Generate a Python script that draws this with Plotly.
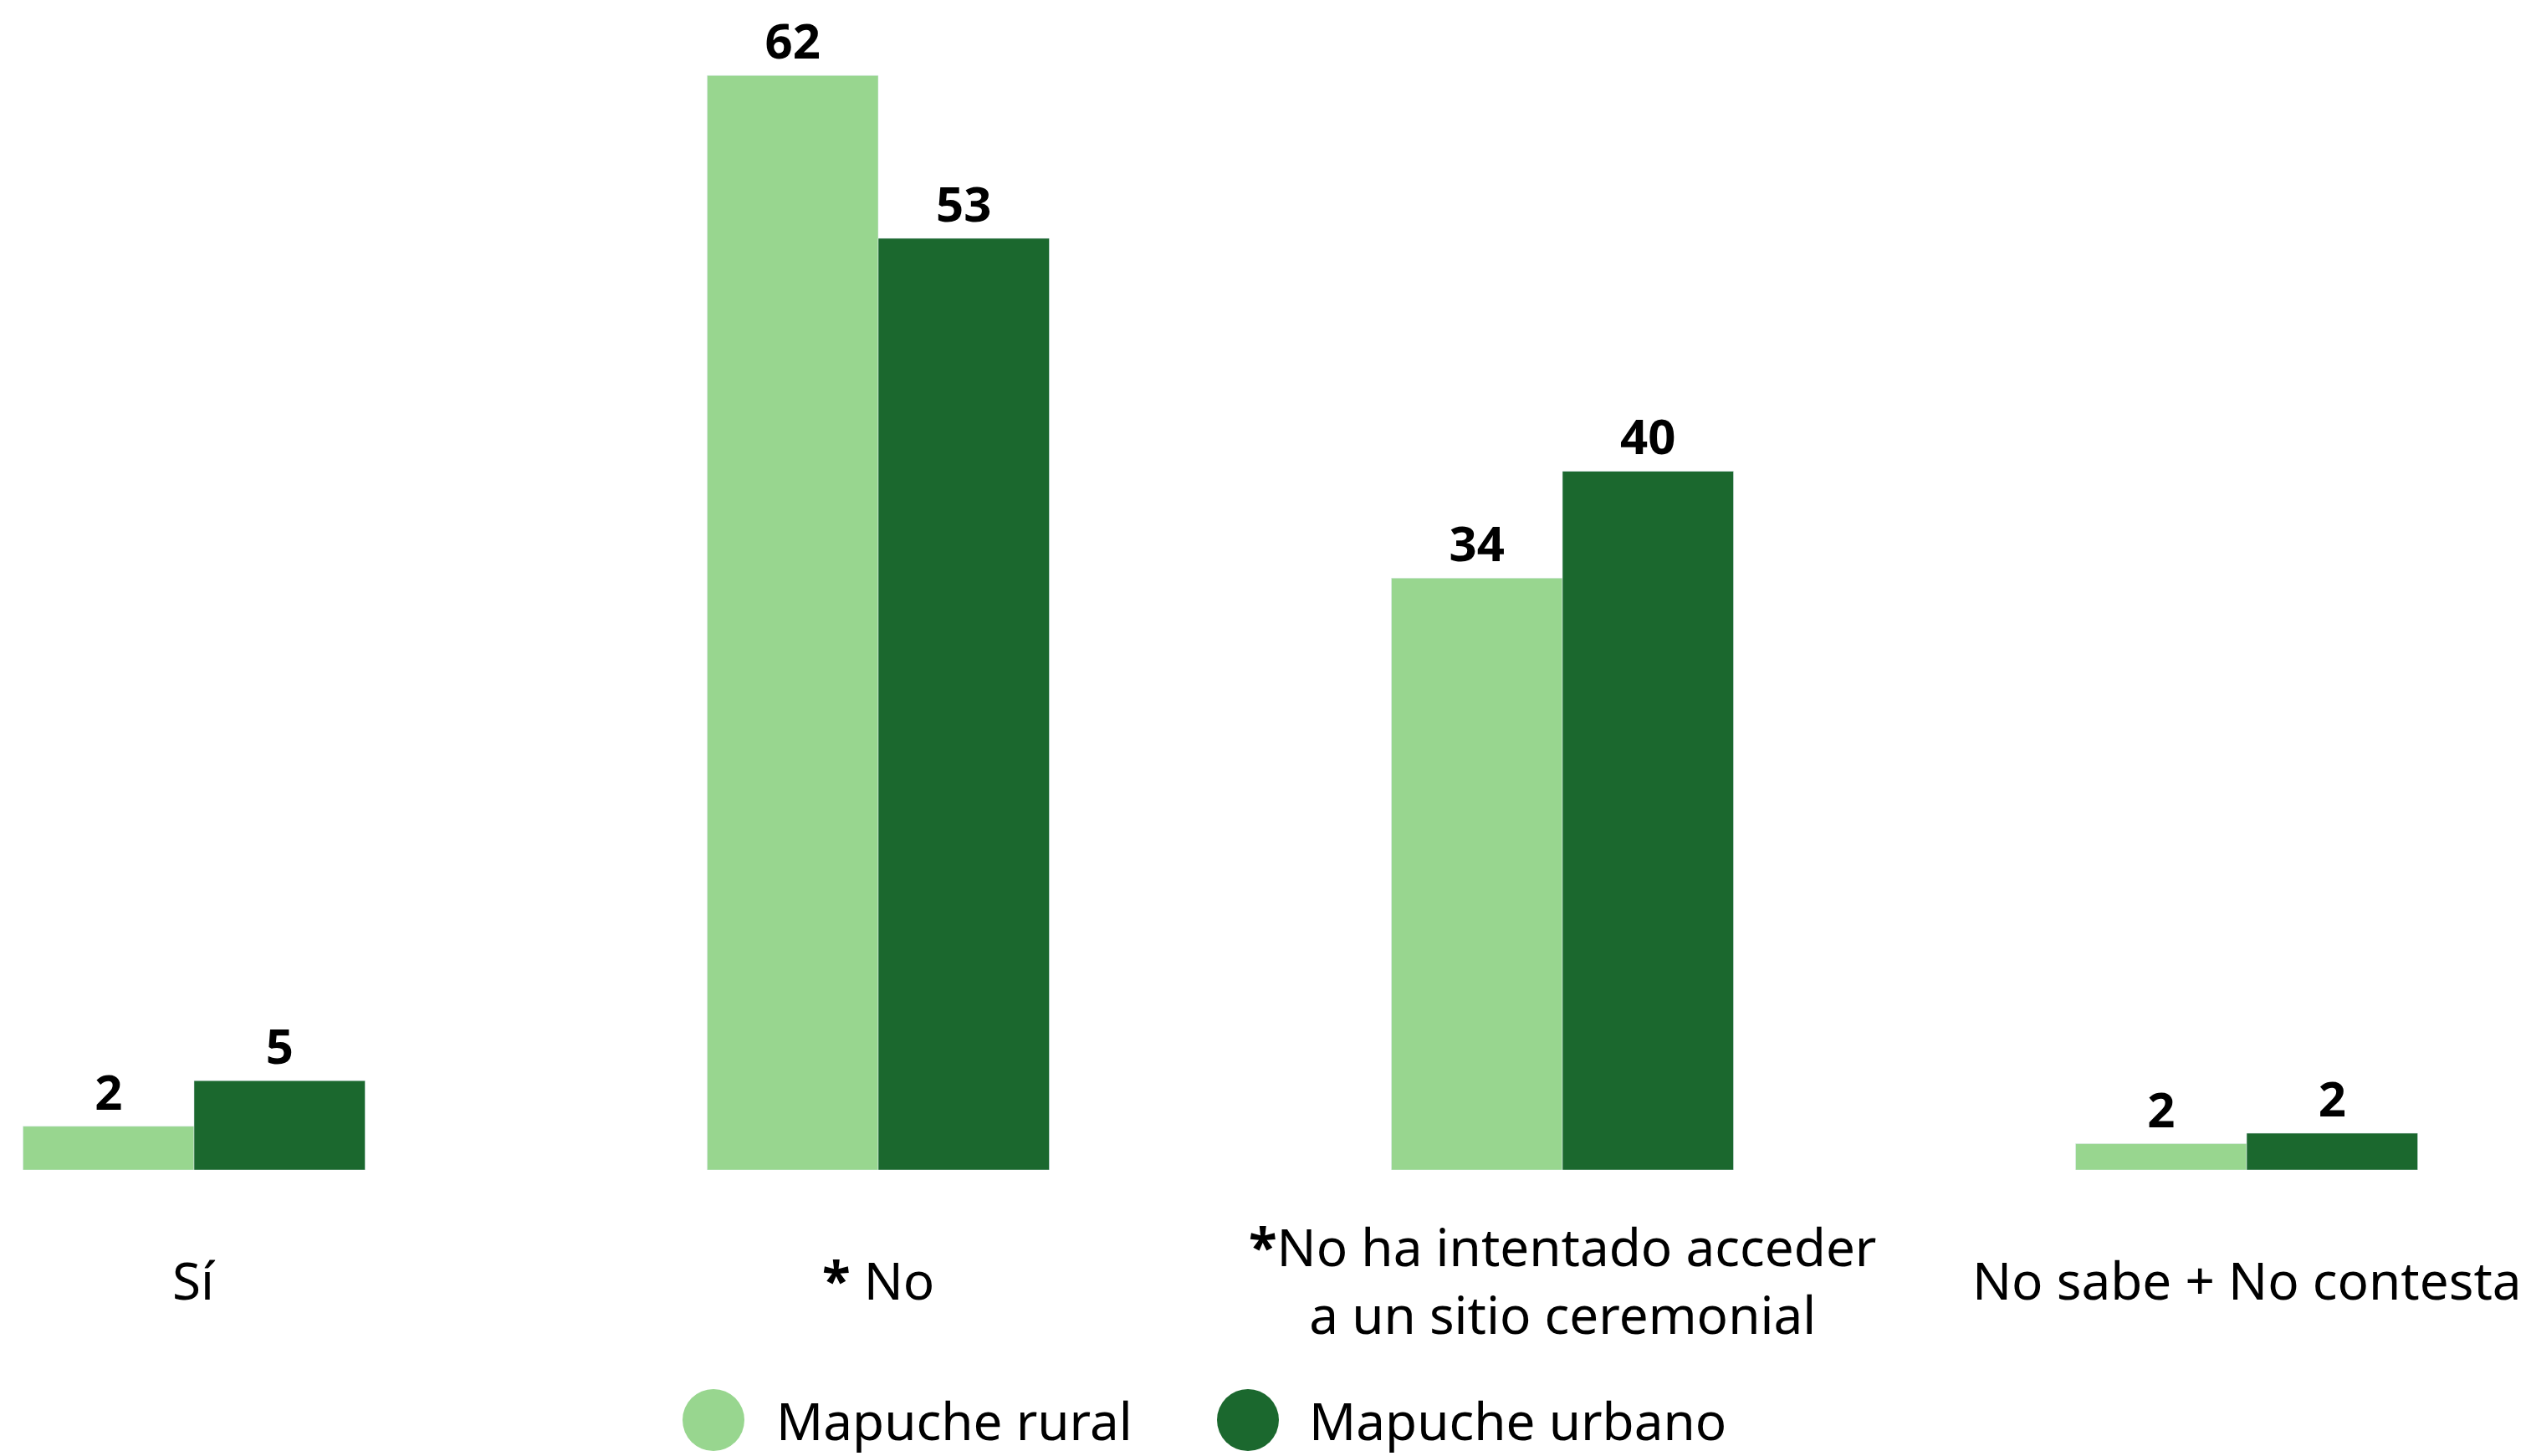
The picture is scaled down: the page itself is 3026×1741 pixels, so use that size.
import plotly.graph_objects as go

# data
categories = ["Sí", "<b>*</b> No", "<b>*</b>No ha intentado acceder<br>a un sitio ceremonial", "No sabe + No contesta"]
rural = [2.5, 62.5, 33.8, 1.5]
urbano = [5.1, 53.2, 39.9, 2.1]
rural_labels = ["2", "62", "34", "2"]
urbano_labels = ["5", "53", "40", "2"]
series_names = ["Mapuche rural", "Mapuche urbano"]

LIGHT = "#98D68F"
DARK = "#1B682E"

W, H = 3026, 1741
TOP, BASE = 17, 1399          # plot area in pixels
PLOT_H = BASE - TOP


def py(p):
    # pixel y -> paper y
    return (BASE - p) / PLOT_H


def px(p):
    return p / W


x_idx = list(range(len(categories)))
value_font = dict(size=58, color="black", family="Open Sans", weight="bold")
label_font = dict(size=62, color="black", family="Noto Sans")

fig = go.Figure()
fig.add_trace(go.Bar(x=x_idx, y=rural, name=series_names[0], marker_color=LIGHT,
                     text=rural_labels, textposition="outside", cliponaxis=False,
                     textfont=value_font, showlegend=False))
fig.add_trace(go.Bar(x=x_idx, y=urbano, name=series_names[1], marker_color=DARK,
                     text=urbano_labels, textposition="outside", cliponaxis=False,
                     textfont=value_font, showlegend=False))

# category labels under each group
for i, c in enumerate(categories):
    fig.add_annotation(x=i, xref="x", y=py(1530), yref="paper", text=c,
                       showarrow=False, yanchor="middle", xanchor="center", font=label_font)

# custom legend with large circles
LEG_Y = 1698
for cx, tx, col, name in [(853, 926, LIGHT, series_names[0]), (1492, 1563, DARK, series_names[1])]:
    r = 37
    fig.add_shape(type="circle", xref="paper", yref="paper",
                  x0=px(cx - r), x1=px(cx + r), y0=py(LEG_Y + r), y1=py(LEG_Y - r),
                  fillcolor=col, line_width=0)
    fig.add_annotation(x=px(tx), xref="paper", y=py(LEG_Y), yref="paper", text=name,
                       showarrow=False, xanchor="left", yanchor="middle", font=label_font)

fig.update_layout(
    width=W, height=H,
    barmode="group", bargap=0.5, bargroupgap=0,
    plot_bgcolor="white", paper_bgcolor="white",
    margin=dict(l=0, r=0, t=TOP, b=H - BASE, pad=0),
    xaxis=dict(range=[-0.2836, 3.4156], showticklabels=False, showgrid=False,
               zeroline=False, showline=False, ticks=""),
    yaxis=dict(range=[0, PLOT_H / 20.94], showticklabels=False, showgrid=False,
               zeroline=False, showline=False),
)

fig.write_html("out.html", config={"displayModeBar": False},
               post_script="document.body.style.margin='0';document.body.style.overflow='hidden';")
